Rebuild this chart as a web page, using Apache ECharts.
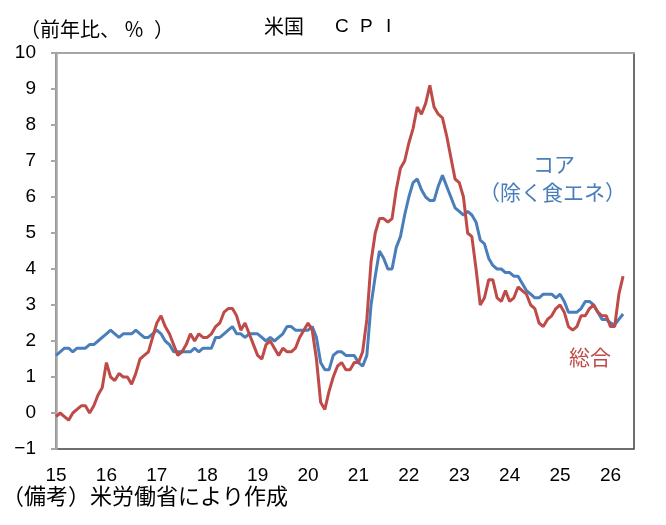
<!DOCTYPE html>
<html>
<head>
<meta charset="utf-8">
<script src="https://cdn.jsdelivr.net/npm/echarts@6/dist/echarts.min.js"></script>
<style>
  html, body { margin: 0; padding: 0; background: #fff; }
  #main { width: 666px; height: 525px; }
</style>
</head>
<body>
<div id="main"></div>
<script>
// 月次 2015/1 〜 2026/4
var yearLabels = ["15", "16", "17", "18", "19", "20", "21", "22", "23", "24", "25", "26"];

// 総合（前年比、％）
var headline = [
  -0.1, 0.0, -0.1, -0.2, 0.0, 0.1, 0.2, 0.2, 0.0, 0.2, 0.5, 0.7,
  1.4, 1.0, 0.9, 1.1, 1.0, 1.0, 0.8, 1.1, 1.5, 1.6, 1.7, 2.1,
  2.5, 2.7, 2.4, 2.2, 1.9, 1.6, 1.7, 1.9, 2.2, 2.0, 2.2, 2.1,
  2.1, 2.2, 2.4, 2.5, 2.8, 2.9, 2.9, 2.7, 2.3, 2.5, 2.2, 1.9,
  1.6, 1.5, 1.9, 2.0, 1.8, 1.6, 1.8, 1.7, 1.7, 1.8, 2.1, 2.3,
  2.5, 2.3, 1.5, 0.3, 0.1, 0.6, 1.0, 1.3, 1.4, 1.2, 1.2, 1.4,
  1.4, 1.7, 2.6, 4.2, 5.0, 5.4, 5.4, 5.3, 5.4, 6.2, 6.8, 7.0,
  7.5, 7.9, 8.5, 8.3, 8.6, 9.1, 8.5, 8.3, 8.2, 7.7, 7.1, 6.5,
  6.4, 6.0, 5.0, 4.9, 4.0, 3.0, 3.2, 3.7, 3.7, 3.2, 3.1, 3.4,
  3.1, 3.2, 3.5, 3.4, 3.3, 3.0, 2.9, 2.5, 2.4, 2.6, 2.7, 2.9,
  3.0, 2.8, 2.4, 2.3, 2.4, 2.7, 2.7, 2.9, 3.0, 2.8, 2.7, 2.7,
  2.4, 2.4, 3.3, 3.8
];

// コア（除く食料・エネルギー）
var core = [
  1.6, 1.7, 1.8, 1.8, 1.7, 1.8, 1.8, 1.8, 1.9, 1.9, 2.0, 2.1,
  2.2, 2.3, 2.2, 2.1, 2.2, 2.2, 2.2, 2.3, 2.2, 2.1, 2.1, 2.2,
  2.3, 2.2, 2.0, 1.9, 1.7, 1.7, 1.7, 1.7, 1.7, 1.8, 1.7, 1.8,
  1.8, 1.8, 2.1, 2.1, 2.2, 2.3, 2.4, 2.2, 2.2, 2.1, 2.2, 2.2,
  2.2, 2.1, 2.0, 2.1, 2.0, 2.1, 2.2, 2.4, 2.4, 2.3, 2.3, 2.3,
  2.3, 2.4, 2.1, 1.4, 1.2, 1.2, 1.6, 1.7, 1.7, 1.6, 1.6, 1.6,
  1.4, 1.3, 1.6, 3.0, 3.8, 4.5, 4.3, 4.0, 4.0, 4.6, 4.9, 5.5,
  6.0, 6.4, 6.5, 6.2, 6.0, 5.9, 5.9, 6.3, 6.6, 6.3, 6.0, 5.7,
  5.6, 5.5, 5.6, 5.5, 5.3, 4.8, 4.7, 4.3, 4.1, 4.0, 4.0, 3.9,
  3.9, 3.8, 3.8, 3.6, 3.4, 3.3, 3.2, 3.2, 3.3, 3.3, 3.3, 3.2,
  3.3, 3.1, 2.8, 2.8, 2.8, 2.9, 3.1, 3.1, 3.0, 2.8, 2.6, 2.6,
  2.5, 2.45, 2.6, 2.75
];

var jpFont = '"Noto Sans CJK JP", sans-serif';
var numFont = '"Liberation Sans", Arial, sans-serif';

function toPairs(arr) {
  return arr.map(function (v, i) { return [i, v]; });
}

var myChart = echarts.init(document.getElementById("main"));
myChart.setOption({
  animation: false,
  backgroundColor: "#fff",
  grid: {
    left: 56,
    right: 32,
    top: 53,
    bottom: 76,
    show: true,
    borderColor: "#404040",
    borderWidth: 1.5
  },
  xAxis: [
    {
      type: "value",
      min: 0,
      max: 137.6,
      interval: 12,
      axisLine: { show: false },
      axisTick: { show: false },
      splitLine: { show: false },
      axisLabel: {
        margin: 17,
        fontSize: 19,
        fontFamily: numFont,
        color: "#000",
        showMaxLabel: false,
        formatter: function (v) {
          if (v % 12 !== 0) return "";
          return yearLabels[v / 12] || "";
        }
      }
    },
    {
      // 0％ の横線
      type: "value",
      min: 0,
      max: 137.6,
      axisLine: { show: true, onZero: true, lineStyle: { color: "#a6a6a6", width: 2 } },
      axisTick: { show: false },
      axisLabel: { show: false },
      splitLine: { show: false }
    }
  ],
  yAxis: {
    type: "value",
    min: -1,
    max: 10,
    interval: 1,
    axisLine: { show: true, lineStyle: { color: "#a6a6a6", width: 2.5 } },
    axisTick: { show: true, inside: false, length: 5, lineStyle: { color: "#a6a6a6", width: 2 } },
    splitLine: { show: false },
    axisLabel: {
      margin: 20,
      fontSize: 19,
      fontFamily: numFont,
      color: "#000",
      formatter: function (v) { return String(v).replace("-", "\u2212"); }
    }
  },
  series: [
    {
      name: "コア",
      type: "line",
      data: toPairs(core),
      showSymbol: false,
      lineStyle: { color: "#4a7ebb", width: 3 },
      itemStyle: { color: "#4a7ebb" }
    },
    {
      name: "総合",
      type: "line",
      data: toPairs(headline),
      showSymbol: false,
      lineStyle: { color: "#be4b48", width: 3 },
      itemStyle: { color: "#be4b48" }
    }
  ],
  graphic: [
    // タイトル
    { type: "text", left: 264, top: 16, style: { text: "米国", font: '20px ' + jpFont, fill: "#000" } },
    { type: "text", left: 335, top: 17, style: { text: "C", font: '19px ' + numFont, fill: "#000" } },
    { type: "text", left: 360, top: 17, style: { text: "P", font: '19px ' + numFont, fill: "#000" } },
    { type: "text", left: 386, top: 17, style: { text: "I", font: '19px ' + numFont, fill: "#000" } },
    // 単位
    { type: "text", left: 20, top: 19, style: { text: "（前年比、", font: '20px ' + jpFont, fill: "#000" } },
    { type: "text", left: 124, top: 19, style: { text: "％", font: '20px ' + jpFont, fill: "#000" } },
    { type: "text", left: 154, top: 19, style: { text: "）", font: '20px ' + jpFont, fill: "#000" } },
    // 系列名
    { type: "text", left: 533, top: 154, style: { text: "コア", font: '21px ' + jpFont, fill: "#4a7ebb" } },
    { type: "text", left: 479, top: 182, style: { text: "（除く食エネ）", font: '21px ' + jpFont, fill: "#4a7ebb" } },
    { type: "text", left: 569, top: 347, style: { text: "総合", font: '21px ' + jpFont, fill: "#be4b48" } },
    // 出所
    { type: "text", left: 2, top: 485, style: { text: "（備考）米労働省により作成", font: '22px ' + jpFont, fill: "#000" } }
  ]
});
</script>
</body>
</html>
